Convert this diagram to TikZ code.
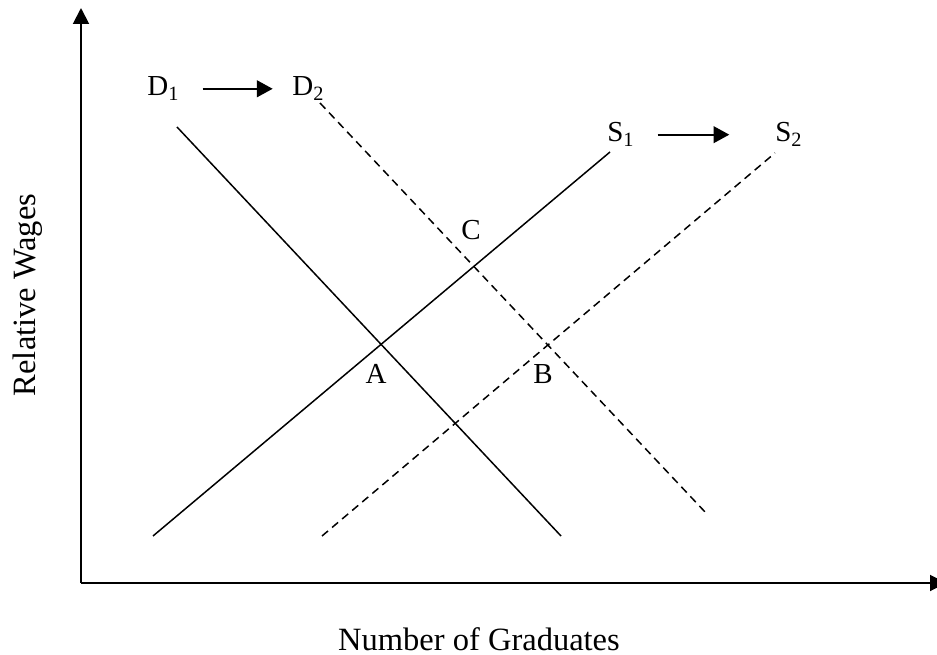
\documentclass[tikz,border=0pt]{standalone}
\usepackage{fontspec}
\setmainfont{Liberation Serif}
\usetikzlibrary{arrows.meta}
\usetikzlibrary{positioning}

\begin{document}
\begin{tikzpicture}[x=0.02cm,y=-0.02cm,
    axis/.style={line width=1.1pt,-{Triangle[length=9pt,width=9pt]}},
    curve/.style={line width=0.85pt},
    shifted/.style={curve,dash pattern=on 4.5pt off 3pt},
    shiftarrow/.style={line width=1.2pt,-{Triangle[length=9pt,width=9.5pt]}},
    lbl/.style={font=\fontsize{16.5}{19}\selectfont,inner sep=0pt},
    axislbl/.style={font=\fontsize{18.5}{21}\selectfont,inner sep=0pt}]
  \path[use as bounding box,clip] (0,0) rectangle (937,655);
  % axes
  \coordinate (O) at (81,583);
  \coordinate (ytop) at (81,8);
  \coordinate (xend) at (946,583);
  \draw[axis] (O) -- (ytop);
  \draw[axis] (O) -- (xend);
  \node[axislbl,rotate=90,anchor=base] (ylab) at (35,295) {Relative Wages};
  \node[axislbl,anchor=base] (xlab) at (479,650) {Number of Graduates};
  % demand and supply
  \coordinate (d1a) at (177,127);
  \coordinate (d1b) at (561,536);
  \coordinate (d2a) at (320,103);
  \coordinate (d2b) at (706,513);
  \coordinate (s1a) at (153,536);
  \coordinate (s1b) at (610,152);
  \coordinate (s2a) at (322,536);
  \coordinate (s2b) at (775,153);
  \draw[curve] (d1a) -- (d1b);
  \draw[shifted] (d2a) -- (d2b);
  \draw[curve] (s1a) -- (s1b);
  \draw[shifted] (s2a) -- (s2b);
  % labels
  \node[lbl,anchor=base west] (D1) at (147,96) {D\textsubscript{1}};
  \node[lbl,anchor=base west] (D2) at (292,96) {D\textsubscript{2}};
  \node[lbl,anchor=base west] (S1) at (607,142) {S\textsubscript{1}};
  \node[lbl,anchor=base west] (S2) at (775,142) {S\textsubscript{2}};
  \node[lbl,anchor=base] (A) at (376,383) {A};
  \node[lbl,anchor=base] (B) at (543,383) {B};
  \node[lbl,anchor=base] (C) at (471,240) {C};
  % shifts
  \draw[shiftarrow,shorten <=13pt,shorten >=11pt] (D1.east) -- (D2.west);
  \draw[shiftarrow,shorten <=13pt,shorten >=26pt] (S1.east) -- (S2.west);
\end{tikzpicture}
\end{document}
